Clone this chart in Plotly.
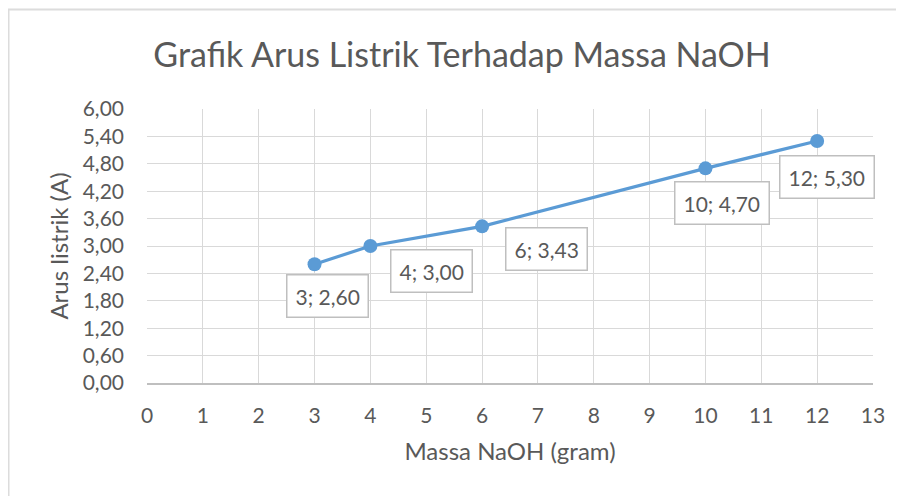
import plotly.graph_objects as go

massa = [3, 4, 6, 10, 12]
arus = [2.60, 3.00, 3.43, 4.70, 5.30]
label_text = ["3; 2,60", "4; 3,00", "6; 3,43", "10; 4,70", "12; 5,30"]
label_dx = [13, 61, 64, 17, 10]
label_dy = [-32, -25, -23, -35, -36]
y_ticks = [0, 0.6, 1.2, 1.8, 2.4, 3.0, 3.6, 4.2, 4.8, 5.4, 6.0]
y_tick_text = ["0,00", "0,60", "1,20", "1,80", "2,40", "3,00", "3,60", "4,20", "4,80", "5,40", "6,00"]
x_ticks = list(range(0, 14))

FONT = "Lato"
GRAY = "#595959"
# page has an 8px body margin, so the figure is 8px smaller than the window
W, H = 896, 488
L, R, T, B = 139, 31, 101, 113
pw = W - L - R
ph = H - T - B


def px(fx):
    return (fx - L) / pw


def py(fy):
    return (H - B - fy) / ph


fig = go.Figure()
fig.add_trace(go.Scatter(
    x=massa, y=arus, mode="lines+markers",
    line=dict(color="#5b9bd5", width=3.2),
    marker=dict(color="#5b9bd5", size=14),
    hoverinfo="skip", showlegend=False,
))

for xv, yv, t, dx, dy in zip(massa, arus, label_text, label_dx, label_dy):
    fig.add_annotation(
        x=xv, y=yv, xref="x", yref="y", text=t, showarrow=False,
        xshift=dx, yshift=dy,
        font=dict(family=FONT, size=21, color=GRAY),
        bgcolor="white", bordercolor="#bfbfbf", borderwidth=1.5, borderpad=8,
    )

# outer chart border (left and top edges visible)
fig.add_shape(type="rect", xref="paper", yref="paper",
              x0=px(0.5), x1=px(W + 10), y0=py(H + 10), y1=py(1.5),
              line=dict(color="#dcdcdc", width=2), fillcolor="rgba(0,0,0,0)", layer="below")

fig.update_layout(
    width=W, height=H,
    margin=dict(l=L, r=R, t=T, b=B),
    paper_bgcolor="white", plot_bgcolor="white",
    title=dict(text="Grafik Arus Listrik Terhadap Massa NaOH", x=454 / W, xanchor="center",
               y=1 - 47 / H, yanchor="middle",
               font=dict(family=FONT, size=34, color=GRAY)),
    font=dict(family=FONT, color=GRAY),
    xaxis=dict(range=[0, 13], tickvals=x_ticks, ticktext=[str(v) for v in x_ticks],
               showgrid=True, gridcolor="#d9d9d9", gridwidth=1, zeroline=False,
               showline=True, linecolor="#bfbfbf", linewidth=1.5,
               ticks="", ticklabelstandoff=13,
               tickfont=dict(family=FONT, size=21, color=GRAY),
               title=dict(text="Massa NaOH (gram)", font=dict(family=FONT, size=24, color=GRAY), standoff=17)),
    yaxis=dict(range=[0, 6], tickvals=y_ticks, ticktext=y_tick_text,
               showgrid=True, gridcolor="#d9d9d9", gridwidth=1, zeroline=False,
               showline=False, ticks="", ticklabelstandoff=22,
               tickfont=dict(family=FONT, size=21, color=GRAY),
               title=dict(text="Arus listrik (A)", font=dict(family=FONT, size=24, color=GRAY), standoff=7)),
)

fig.write_html("out.html")
